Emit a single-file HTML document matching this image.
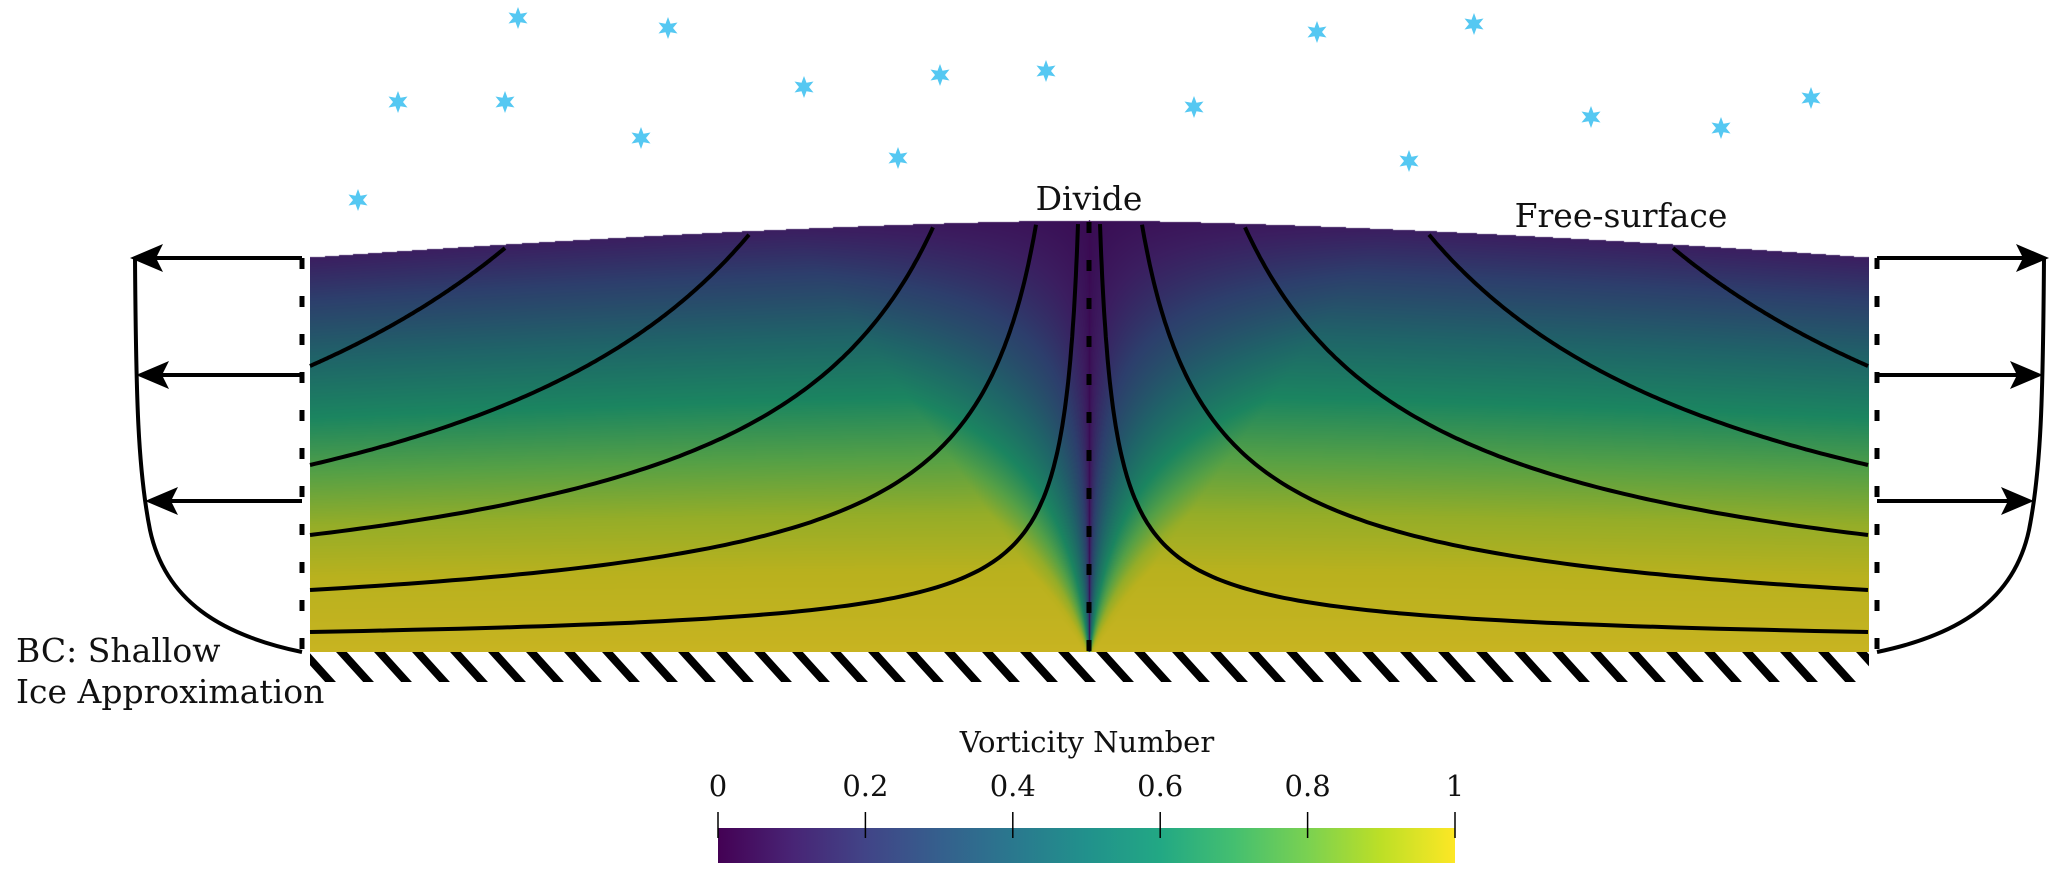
<!DOCTYPE html>
<html><head><meta charset="utf-8"><style>
html,body{margin:0;padding:0;background:#fff;}
#wrap{position:relative;width:2067px;height:881px;overflow:hidden;background:#fff;}
svg text{font-family:"DejaVu Serif","Liberation Serif",serif;fill:#111;}
</style></head><body>
<div id="wrap">
<canvas id="field" width="1559" height="432" style="position:absolute;left:310px;top:220px;"></canvas>
<svg id="ov" width="2067" height="881" style="position:absolute;left:0;top:0;" xmlns="http://www.w3.org/2000/svg">
<defs>
<pattern id="hatch" patternUnits="userSpaceOnUse" width="38" height="30" x="310" y="652">
<path d="M-12,-6 L26,36 M26,-6 L64,36" stroke="#000" stroke-width="8"/>
</pattern>
<linearGradient id="viridis" x1="0" x2="1" y1="0" y2="0">
<stop offset="0" stop-color="#440154"/><stop offset="0.1" stop-color="#482475"/><stop offset="0.2" stop-color="#414487"/><stop offset="0.3" stop-color="#355f8d"/><stop offset="0.4" stop-color="#2a788e"/><stop offset="0.5" stop-color="#21918c"/><stop offset="0.6" stop-color="#22a884"/><stop offset="0.7" stop-color="#44bf70"/><stop offset="0.8" stop-color="#7ad151"/><stop offset="0.9" stop-color="#bddf26"/><stop offset="1" stop-color="#fde725"/>
</linearGradient>
</defs>
<g id="stars"></g>
<rect x="310" y="652" width="1559" height="30" fill="url(#hatch)"/>
<g id="streams"></g>
<line x1="1089" y1="222" x2="1089" y2="652" stroke="#000" stroke-width="5" stroke-dasharray="11 27"/>
<g>
<line x1="302" y1="258" x2="302" y2="652" stroke="#000" stroke-width="5" stroke-dasharray="11 27"/>
<path d="M135,258 C136,400 138,470 150,530 C165,600 220,635 302,652" fill="none" stroke="#000" stroke-width="4"/>
<line x1="302" y1="258" x2="150" y2="258" stroke="#000" stroke-width="4"/>
<line x1="302" y1="375" x2="152" y2="375" stroke="#000" stroke-width="4"/>
<line x1="302" y1="501" x2="160" y2="501" stroke="#000" stroke-width="4"/>
<polygon points="130,258 163,244 156,258 163,272" fill="#000"/>
<polygon points="136,375 169,361 162,375 169,389" fill="#000"/>
<polygon points="145,501 178,487 171,501 178,515" fill="#000"/>
</g>
<g transform="translate(2179,0) scale(-1,1)">
<line x1="302" y1="258" x2="302" y2="652" stroke="#000" stroke-width="5" stroke-dasharray="11 27"/>
<path d="M135,258 C136,400 138,470 150,530 C165,600 220,635 302,652" fill="none" stroke="#000" stroke-width="4"/>
<line x1="302" y1="258" x2="150" y2="258" stroke="#000" stroke-width="4"/>
<line x1="302" y1="375" x2="152" y2="375" stroke="#000" stroke-width="4"/>
<line x1="302" y1="501" x2="160" y2="501" stroke="#000" stroke-width="4"/>
<polygon points="130,258 163,244 156,258 163,272" fill="#000"/>
<polygon points="136,375 169,361 162,375 169,389" fill="#000"/>
<polygon points="145,501 178,487 171,501 178,515" fill="#000"/>
</g>
<text x="1089" y="210" font-size="33" text-anchor="middle">Divide</text>
<text x="1621" y="227" font-size="33" text-anchor="middle">Free-surface</text>
<text x="16" y="662" font-size="33">BC: Shallow</text>
<text x="16" y="703" font-size="33">Ice Approximation</text>
<g>
<text x="1087" y="752" font-size="29" text-anchor="middle">Vorticity Number</text>
<rect x="718" y="828" width="737" height="35" fill="url(#viridis)"/>
<g id="cbticks"></g>
</g>
</svg>
</div>
<script>
// ---- data ----
const starX = [518,668,398,505,804,940,1046,641,898,1194,1317,1474,1409,1591,1721,1811,358];
const starY = [18,28,102,102,87,75,71,138,158,107,32,24,161,117,128,98,200];
const streamTopDist = [584,340,156,53,11];   // px from divide where streamline leaves surface
const streamEdgeHeight = [286,187,117,62,20]; // px above bed where streamline hits margin
const cbTicks = [0,0.2,0.4,0.6,0.8,1];
const cbTickLabels = ["0","0.2","0.4","0.6","0.8","1"];

const NS="http://www.w3.org/2000/svg";
const X0=310,X1=1869,XD=1089,BED=652,L=779;
function surfY(d){return 220+37*Math.pow(Math.min(1,Math.abs(d)/L),1.5);}
function cbX(v){return 718+v*737;}

// stars
const sg=document.getElementById('stars');
for(let i=0;i<starX.length;i++){
  let pts=[];
  for(let k=0;k<12;k++){const r=k%2?5:11;const a=Math.PI/6*k-Math.PI/2;pts.push((starX[i]+r*Math.cos(a)).toFixed(1)+','+(starY[i]+r*Math.sin(a)).toFixed(1));}
  const p=document.createElementNS(NS,'polygon');
  p.setAttribute('points',pts.join(' '));p.setAttribute('fill','#55c8f2');
  
  
  sg.appendChild(p);
}

// streamlines
const st=document.getElementById('streams');
for(let i=0;i<streamTopDist.length;i++){
  const d0=streamTopDist[i],h1=streamEdgeHeight[i];
  const H0=BED-surfY(d0)-4;
  const e=Math.log(h1/H0)/Math.log(d0/L);
  for(const s of [-1,1]){
    let pts=[];
    for(let t=0;t<=120;t++){
      const d=d0*Math.pow(L/d0,t/120);
      const h=H0*Math.pow(d0/d,e);
      pts.push((XD+s*d).toFixed(1)+','+(BED-h).toFixed(1));
    }
    const pl=document.createElementNS(NS,'polyline');
    pl.setAttribute('points',pts.join(' '));pl.setAttribute('fill','none');
    pl.setAttribute('stroke','#000');pl.setAttribute('stroke-width','4');
    
    
    st.appendChild(pl);
  }
}

// colorbar ticks
const cg=document.getElementById('cbticks');
for(let i=0;i<cbTicks.length;i++){
  const x=cbX(cbTicks[i]);
  const l=document.createElementNS(NS,'line');
  l.setAttribute('x1',x);l.setAttribute('x2',x);l.setAttribute('y1',812);l.setAttribute('y2',838);
  l.setAttribute('stroke','#000');l.setAttribute('stroke-width','1.5');
  
  
  cg.appendChild(l);
  const t=document.createElementNS(NS,'text');
  t.setAttribute('x',x);t.setAttribute('y',796);t.setAttribute('font-size','29');t.setAttribute('text-anchor','middle');
  t.textContent=cbTickLabels[i];
  
  
  cg.appendChild(t);
}

// field (shaded viridis as in the rendering)
const fs=[[0,[58,10,82]],[0.06,[59,30,96]],[0.14,[45,62,108]],[0.26,[31,100,104]],[0.38,[27,133,96]],[0.5,[85,160,70]],[0.62,[149,173,40]],[0.75,[185,177,30]],[1,[201,180,33]]];
function cmap(v){v=Math.max(0,Math.min(1,v));for(let i=0;i<fs.length-1;i++){if(v<=fs[i+1][0]){const f=(v-fs[i][0])/(fs[i+1][0]-fs[i][0]);const a=fs[i][1],b=fs[i+1][1];return [a[0]+(b[0]-a[0])*f,a[1]+(b[1]-a[1])*f,a[2]+(b[2]-a[2])*f];}}return fs[fs.length-1][1];}
const cv=document.getElementById('field'),ctx=cv.getContext('2d');
const W=cv.width,Hc=cv.height,img=ctx.createImageData(W,Hc);
for(let px=0;px<W;px++){
  const x=X0+px,d=Math.abs(x-XD),sy=surfY(d);
  for(let py=0;py<Hc;py++){
    const y=220+py,o=(py*W+px)*4;
    if(y<sy){img.data[o+3]=0;continue;}
    const H=BED-sy,hn=Math.max(0,(BED-y)/H);
    let base=0.06+0.94*(1-Math.pow(hn,0.8));
    const a=d/((BED-y)+5);
    const w=Math.min(1,Math.pow(a/0.7,0.5));
    let c=cmap(base*w);
    img.data[o]=c[0];img.data[o+1]=c[1];img.data[o+2]=c[2];img.data[o+3]=255;
  }
}
ctx.putImageData(img,0,0);
</script>
</body></html>
